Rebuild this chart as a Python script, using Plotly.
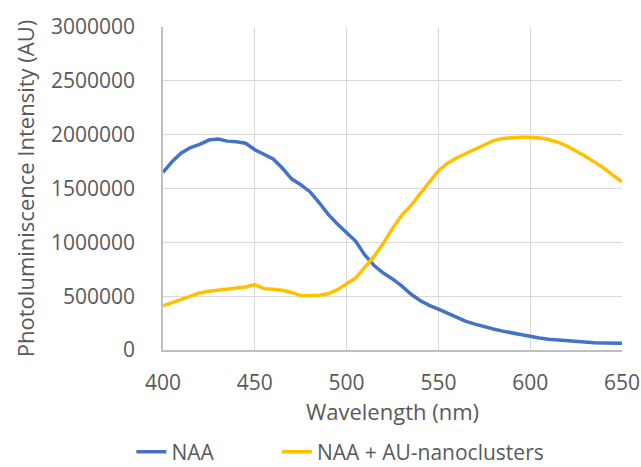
import plotly.graph_objects as go

# Emission spectra, sampled every 5 nm
wavelength = list(range(400, 651, 5))

naa = [1650000, 1750000, 1830000, 1880000, 1910000, 1950000, 1960000, 1940000, 1935000, 1920000,
       1860000, 1815000, 1775000, 1690000, 1590000, 1535000, 1470000, 1370000, 1260000, 1170000,
       1090000, 1010000, 880000, 785000, 715000, 660000, 595000, 520000, 460000, 415000,
       380000, 340000, 300000, 265000, 240000, 215000, 195000, 175000, 158000, 140000,
       125000, 112000, 100000, 93000, 85000, 78000, 73000, 68000, 65000, 63000, 62000]

naa_au = [410000, 440000, 475000, 505000, 530000, 545000, 555000, 570000, 578000, 585000,
          608000, 570000, 565000, 555000, 535000, 505000, 503000, 508000, 522000, 560000,
          615000, 670000, 770000, 870000, 990000, 1130000, 1250000, 1340000, 1450000, 1560000,
          1665000, 1735000, 1785000, 1825000, 1865000, 1910000, 1945000, 1965000, 1972000, 1975000,
          1975000, 1970000, 1955000, 1930000, 1895000, 1850000, 1800000, 1745000, 1690000, 1625000, 1563000]

series_names = ["NAA", "NAA + AU-nanoclusters"]
x_ticks = [400, 450, 500, 550, 600, 650]
y_ticks = [0, 500000, 1000000, 1500000, 2000000, 2500000, 3000000]

FONT = "Open Sans"
TXT = "#595959"

fig = go.Figure()
fig.add_trace(go.Scatter(x=wavelength, y=naa, mode="lines", name=series_names[0],
                         line=dict(color="#4472C4", width=3.5), legend="legend"))
fig.add_trace(go.Scatter(x=wavelength, y=naa_au, mode="lines", name=series_names[1],
                         line=dict(color="#FFC000", width=3.5), legend="legend2"))

legend_common = dict(orientation="h", xref="container", yref="container", xanchor="left",
                     y=0.032, yanchor="middle", font=dict(size=21, color=TXT),
                     bgcolor="rgba(0,0,0,0)")

fig.update_layout(
    width=641, height=467,
    margin=dict(l=163, r=19, t=27, b=117, autoexpand=False),
    paper_bgcolor="white", plot_bgcolor="white",
    font=dict(family=FONT, size=21, color=TXT),
    xaxis=dict(
        range=[400, 650], tickvals=x_ticks, showgrid=True, gridcolor="#D9D9D9", gridwidth=1.3,
        showline=True, linecolor="#BFBFBF", linewidth=1.5, zeroline=False, automargin=False,
        tickfont=dict(size=21, color=TXT), ticklabelstandoff=13,
        title=dict(text="Wavelength (nm)", font=dict(size=22, color=TXT), standoff=10),
    ),
    yaxis=dict(
        range=[0, 3000000], tickvals=y_ticks, tickformat="d", showgrid=True, automargin=False,
        gridcolor="#D9D9D9", gridwidth=1.3, showline=True, linecolor="#BFBFBF", linewidth=1.5,
        zeroline=False, tickfont=dict(size=21, color=TXT), ticklabelstandoff=22,
        title=dict(text="Photoluminiscence Intensity (AU)", font=dict(size=22, color=TXT), standoff=10),
    ),
    legend=dict(x=0.205, **legend_common),
    legend2=dict(x=0.432, **legend_common),
    showlegend=True,
)

fig.write_html("out.html")
